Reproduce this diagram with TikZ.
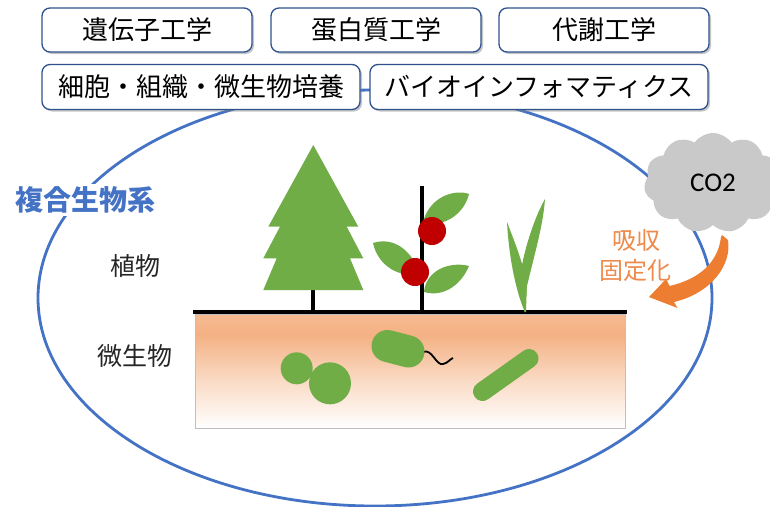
\documentclass[tikz,border=0pt]{standalone}
\usepackage{fontspec}
\usetikzlibrary{shapes.symbols,shadows}
\newfontfamily\jp{Noto Sans CJK JP}
\newfontfamily\lat{Carlito}
\newcommand\fsz[1]{\fontsize{#1}{#1}\selectfont}

\definecolor{boxblue}{HTML}{2F528F}
\definecolor{ringblue}{HTML}{4472C4}
\definecolor{leafgreen}{HTML}{70AD47}
\definecolor{tomatored}{HTML}{C00000}
\definecolor{soilpeach}{HTML}{F4B183}
\definecolor{soiledge}{HTML}{BFBFBF}
\definecolor{cloudgray}{HTML}{C9C9C9}
\definecolor{arroworange}{HTML}{ED7D31}
\definecolor{textorange}{HTML}{EE8A4A}
\definecolor{labelgray}{HTML}{262626}

\pgfdeclareverticalshading{soilshade}{100bp}{color(0bp)=(white); color(25bp)=(white);
  color(45bp)=(soilpeach!45!white); color(66bp)=(soilpeach); color(75bp)=(soilpeach!88!white);
  color(100bp)=(soilpeach!88!white)}

\tikzset{
  field/.style={draw=boxblue, line width=1.3pt, rounded corners=8pt, fill=white,
    drop shadow={shadow xshift=2pt, shadow yshift=-2pt, opacity=0.45},
    font=\jp\fsz{26}, text=black, inner sep=0pt},
  plant/.style={fill=leafgreen},
  stemline/.style={line width=4pt, black},
  microbe/.style={fill=leafgreen},
  sidelabel/.style={font=\jp\fsz{25}, text=labelgray},
  uptake/.style={font=\jp\fsz{24}, text=textorange},
}

\begin{document}
\begin{tikzpicture}[x=1pt, y=-1pt]
\useasboundingbox (0,0) rectangle (770,506);
\fill[white] (0,0) rectangle (770,506);

% the community boundary
\draw[ringblue, line width=2.8pt] (375,298) ellipse [x radius=337pt, y radius=208pt];

% research fields
\node[field, minimum width=210, minimum height=44] (gene) at (147,30) {遺伝子工学};
\node[field, minimum width=210, minimum height=44] (protein) at (376,30) {蛋白質工学};
\node[field, minimum width=210, minimum height=44] (metab) at (604,30) {代謝工学};
\node[field, minimum width=318, minimum height=45] (culture) at (201,87) {細胞・組織・微生物培養};
\node[field, minimum width=338, minimum height=45] (bioinfo) at (539,87) {バイオインフォマティクス};

% title of the community
\node[fill=white, inner sep=3pt, font=\jp\bfseries\fsz{28}, text=ringblue] (title) at (85,200) {複合生物系};

\node[sidelabel] (plants) at (135,266) {植物};
\node[sidelabel] (microbes) at (135,356) {微生物};

% soil
\shade[shading=soilshade] (195,314) rectangle (625,428);
\draw[soiledge, line width=0.8pt] (195,314) rectangle (625,428);
\draw[stemline] (193,312) -- (627,312);

% conifer
\draw[stemline] (313,289) -- (313,312);
\fill[plant] (313.3,145) -- (358.3,226.7) -- (346.7,226.7) -- (363.3,258.3) -- (350,258.3)
  -- (363.3,290) -- (263.3,290) -- (276.7,258.3) -- (263.3,258.3) -- (280,226.7)
  -- (268.3,226.7) -- cycle;

% tomato
\draw[stemline] (421.7,186) -- (421.7,312);
\fill[plant] (423,222) .. controls (430,196) and (455,189) .. (469,194)
  .. controls (465,212) and (445,229) .. (423,222) -- cycle;
\fill[plant] (373,243) .. controls (395,236) and (412,252) .. (420,273)
  .. controls (400,279) and (378,266) .. (373,243) -- cycle;
\fill[plant] (424,292) .. controls (426,270) and (450,261) .. (469,266)
  .. controls (462,283) and (445,298) .. (424,292) -- cycle;
\fill[tomatored] (432,231) circle [radius=14pt];
\fill[tomatored] (415,272) circle [radius=14pt];

% grass
\fill[plant] (507,222) .. controls (509,260) and (517,295) .. (525,312)
  -- (527,284) .. controls (523,262) and (513,238) .. (507,222) -- cycle;
\fill[plant] (545,199) .. controls (536,215) and (527,240) .. (522,265)
  -- (522,300) -- (527,286) .. controls (535,252) and (543,226) .. (545,199) -- cycle;
\fill[plant] (521.5,280) -- (527,280) -- (526,312) -- (524.5,312) -- cycle;

% microbes
\fill[microbe] (296.7,368.3) circle [radius=16pt];
\fill[microbe] (330,383.3) circle [radius=21pt];
\draw[black, line width=1.8pt] (423,352) .. controls (432,348) and (436,366) .. (443,364)
  .. controls (448,363) and (450,359) .. (453,358);
\draw[leafgreen, line width=32pt, line cap=round] (387.5,346) -- (408.5,351.5);
\draw[leafgreen, line width=19pt, line cap=round] (482.5,391.5) -- (529,358.5);

% CO2 cloud
\node[cloud, cloud puffs=11, cloud puff arc=110, aspect=1.35, fill=cloudgray,
  minimum width=138, minimum height=100, inner sep=0pt,
  font=\lat\fsz{27}, text=black] (co2) at (713,183) {CO2};

% uptake arrow
\fill[arroworange] (722,235) -- (728,240) .. controls (732,264) and (712,293) .. (674,302)
  -- (677.5,308) -- (649,297) -- (666,279) -- (669.5,286)
  .. controls (700,279) and (718,262) .. (721,237) -- cycle;

\node[uptake] (absorb) at (636,240) {吸収};
\node[uptake] (fix) at (635,270) {固定化};
\end{tikzpicture}
\end{document}
